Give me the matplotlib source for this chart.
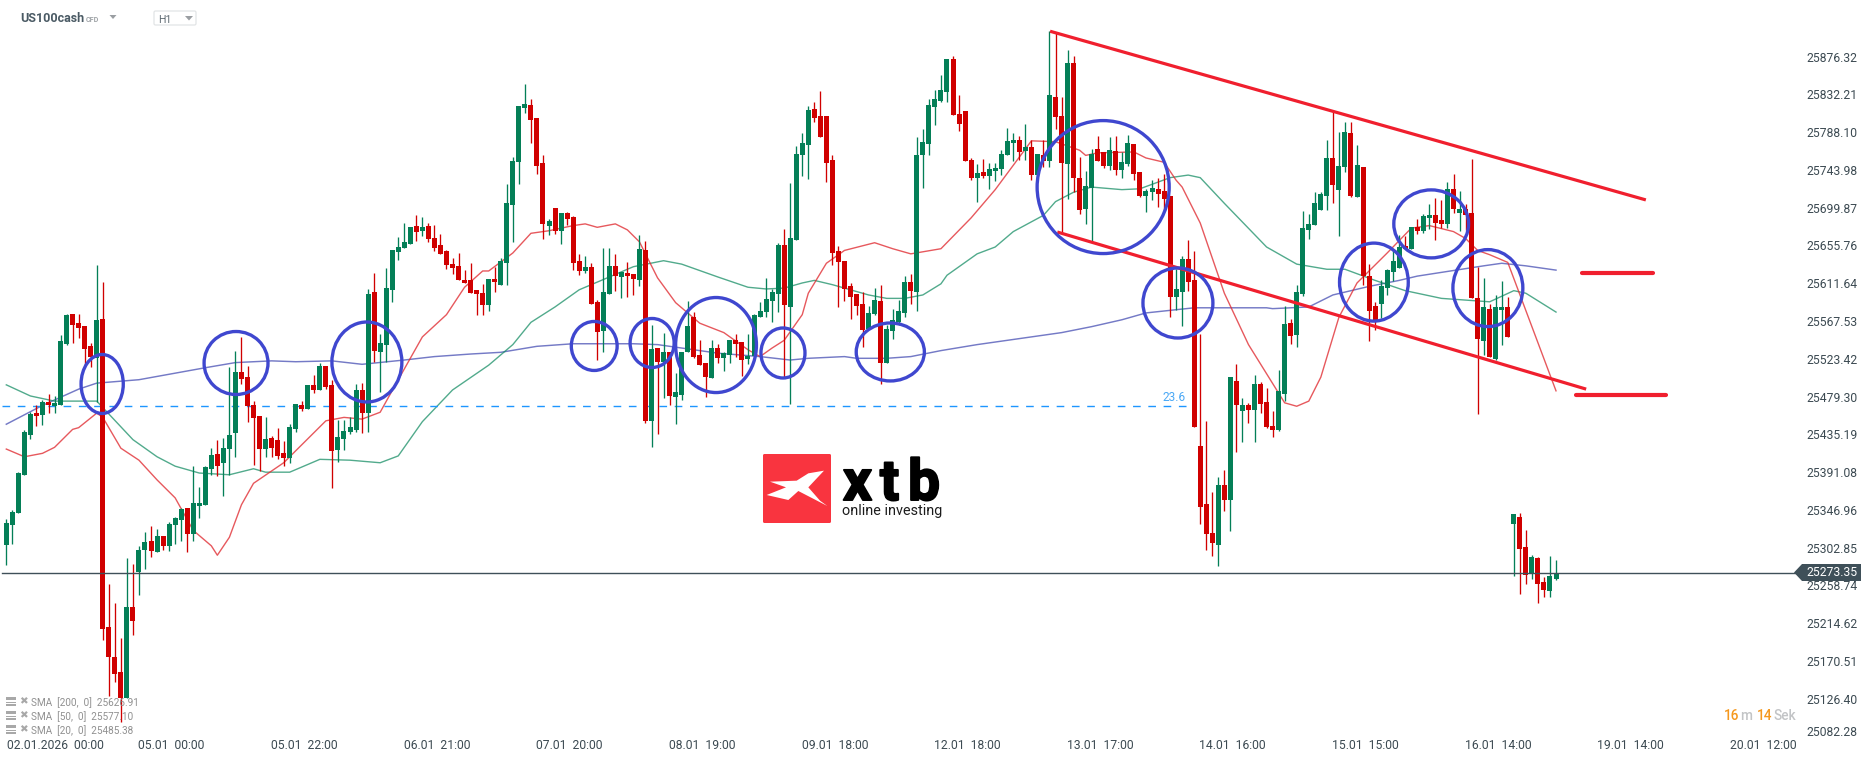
import matplotlib
matplotlib.use("Agg")
import matplotlib.pyplot as plt
import matplotlib.patheffects as pe
from matplotlib.patches import Ellipse, Polygon, FancyBboxPatch, Rectangle

plt.rcParams['font.family'] = ['Roboto', 'DejaVu Sans']

opens = [
25306,25329,25343,25388,25434,25460,25458,25473,25468,25469,
25541,25576,25565,25562,25538,25524,25570,25210,25175,25158,
25127,25234,25274,25300,25311,25298,25316,25305,25329,25335,
25349,25319,25351,25353,25395,25412,25402,25418,25437,25508,
25502,25469,25457,25418,25431,25429,25413,25408,25441,25469,
25465,25493,25487,25515,25493,25417,25430,25438,25440,25487,
25460,25601,25531,25540,25604,25648,25653,25658,25679,25673,
25679,25665,25656,25649,25634,25632,25615,25615,25604,25600,
25586,25617,25610,25635,25703,25753,25816,25820,25805,25752,
25679,25700,25673,25694,25689,25638,25626,25631,25590,25556,
25599,25632,25619,25624,25622,25615,25650,25451,25536,25520,
25531,25479,25481,25531,25572,25528,25518,25501,25536,25524,
25528,25545,25543,25523,25527,25572,25578,25591,25599,25656,
25584,25662,25761,25773,25815,25807,25807,25756,25649,25638,
25608,25599,25587,25558,25576,25591,25518,25556,25566,25577,
25613,25601,25761,25774,25818,25825,25835,25874,25809,25813,
25756,25735,25742,25737,25743,25745,25761,25775,25779,25766,
25771,25738,25761,25754,25829,25807,25751,25869,25735,25698,
25723,25768,25765,25749,25766,25744,25751,25774,25742,25714,
25718,25722,25719,25714,25596,25601,25640,25615,25422,25354,
25320,25306,25376,25358,25497,25462,25469,25464,25494,25473,
25445,25440,25482,25565,25551,25599,25674,25680,25697,25714,
25758,25721,25747,25787,25712,25747,25620,25585,25587,25606,
25625,25630,25655,25652,25677,25673,25688,25691,25686,25681,
25722,25694,25698,25694,25594,25544,25582,25523,25580,25584,
25330,25339,25304,25272,25291,25263,25252,25266]

highs = [
25336,25347,25391,25440,25461,25469,25475,25482,25480,25551,
25576,25576,25576,25562,25542,25633,25613,25260,25238,25197,
25291,25284,25305,25321,25328,25325,25316,25333,25339,25349,
25349,25398,25374,25398,25419,25429,25431,25514,25533,25549,
25515,25474,25457,25455,25433,25443,25427,25447,25471,25474,
25493,25504,25519,25515,25499,25452,25452,25455,25494,25495,
25605,25624,25552,25629,25651,25666,25682,25677,25691,25689,
25682,25680,25669,25650,25641,25647,25627,25635,25604,25611,
25617,25631,25641,25728,25759,25819,25844,25827,25805,25761,
25687,25700,25694,25695,25690,25646,25643,25635,25592,25653,
25653,25646,25625,25636,25622,25668,25661,25563,25536,25554,
25531,25507,25531,25591,25578,25545,25518,25545,25541,25531,
25545,25552,25543,25552,25576,25590,25618,25605,25659,25675,
25729,25772,25787,25819,25823,25836,25807,25761,25655,25638,
25612,25599,25601,25585,25606,25610,25563,25582,25592,25620,
25622,25783,25792,25827,25837,25855,25874,25877,25832,25813,
25758,25751,25757,25752,25752,25767,25793,25787,25784,25798,
25779,25763,25779,25906,25904,25829,25884,25877,25759,25743,
25768,25784,25765,25783,25784,25765,25785,25774,25742,25722,
25732,25735,25739,25714,25628,25644,25662,25649,25552,25451,
25368,25385,25394,25502,25517,25478,25472,25504,25496,25489,
25462,25510,25585,25570,25610,25696,25693,25718,25718,25779,
25812,25788,25800,25800,25773,25747,25634,25590,25615,25628,
25650,25668,25667,25677,25687,25693,25704,25711,25709,25730,
25739,25719,25704,25757,25631,25618,25587,25598,25614,25596,
25342,25343,25323,25294,25292,25269,25293,25288]

lows = [
25283,25307,25343,25388,25430,25445,25446,25460,25460,25469,
25540,25542,25548,25516,25514,25473,25195,25130,25146,25099,
25127,25201,25248,25278,25292,25298,25300,25299,25307,25311,
25298,25311,25337,25353,25388,25387,25363,25388,25409,25494,
25450,25399,25392,25409,25409,25406,25398,25402,25438,25462,
25465,25483,25487,25488,25373,25403,25417,25436,25438,25437,
25438,25520,25485,25520,25590,25639,25653,25658,25661,25667,
25660,25649,25646,25628,25622,25615,25612,25600,25575,25575,
25579,25601,25610,25610,25660,25728,25811,25775,25739,25663,
25668,25669,25658,25680,25627,25621,25624,25587,25522,25531,
25599,25603,25594,25596,25598,25608,25448,25420,25436,25478,
25469,25447,25475,25531,25524,25516,25479,25501,25518,25509,
25518,25526,25503,25517,25527,25572,25572,25566,25578,25502,
25471,25662,25737,25733,25800,25783,25730,25633,25584,25591,
25570,25575,25537,25558,25575,25494,25518,25547,25563,25572,
25587,25579,25723,25761,25796,25823,25823,25808,25789,25754,
25732,25707,25735,25722,25731,25738,25761,25754,25756,25756,
25732,25738,25747,25747,25792,25672,25710,25718,25693,25681,
25661,25754,25746,25744,25738,25735,25749,25732,25712,25695,
25709,25701,25696,25572,25580,25562,25603,25444,25331,25300,
25293,25281,25346,25322,25415,25426,25448,25426,25460,25443,
25432,25439,25474,25541,25537,25597,25663,25680,25697,25697,
25705,25667,25742,25712,25712,25610,25544,25557,25571,25598,
25614,25630,25652,25652,25669,25670,25675,25662,25676,25676,
25694,25673,25674,25594,25459,25528,25526,25522,25540,25549,
25270,25249,25260,25266,25238,25245,25245,25265]

closes = [
25332,25344,25390,25438,25459,25457,25473,25469,25472,25544,
25575,25563,25559,25535,25526,25569,25208,25175,25155,25127,
25234,25217,25300,25309,25299,25316,25305,25330,25337,25348,
25319,25355,25355,25397,25411,25398,25419,25434,25508,25500,
25468,25454,25418,25430,25419,25410,25408,25444,25471,25465,
25493,25487,25515,25490,25416,25432,25439,25444,25487,25460,
25599,25533,25542,25606,25651,25654,25660,25677,25672,25677,
25663,25653,25646,25633,25629,25615,25612,25600,25599,25586,
25617,25613,25638,25705,25754,25819,25821,25802,25749,25681,
25684,25673,25694,25687,25635,25626,25631,25587,25555,25601,
25632,25620,25625,25620,25617,25652,25451,25535,25520,25531,
25480,25485,25531,25562,25526,25516,25502,25536,25524,25530,
25545,25541,25522,25527,25575,25579,25593,25601,25656,25586,
25665,25763,25775,25814,25805,25783,25752,25647,25636,25605,
25596,25585,25557,25577,25592,25518,25558,25569,25579,25613,
25603,25761,25777,25820,25827,25837,25874,25808,25798,25754,
25735,25740,25737,25745,25746,25763,25778,25779,25765,25771,
25738,25763,25754,25832,25806,25752,25869,25735,25697,25725,
25763,25754,25749,25767,25744,25753,25775,25739,25714,25719,
25723,25716,25710,25596,25605,25640,25613,25444,25350,25319,
25308,25376,25358,25502,25469,25469,25464,25494,25471,25444,
25440,25486,25564,25550,25601,25676,25681,25705,25716,25758,
25726,25749,25788,25714,25750,25620,25579,25568,25608,25627,
25638,25654,25652,25677,25673,25690,25691,25682,25681,25722,
25698,25698,25691,25594,25547,25584,25526,25584,25584,25549,
25342,25301,25271,25292,25260,25253,25270,25273.35]

sma200_idx = [0,6,12,15,22,33,38,44,48,54,59,66,71,77,82,88,94,104,108,113,118,125,130,133,139,141,146,150,155,161,169,175,180,185,189,197,209,210,216,220,226,231,234,245,248,252,257]
sma200_val = [25447,25469,25488,25495,25499,25513,25519,25521,25520,25521,25517,25522,25526,25529,25531,25538,25541,25541,25540,25535,25530,25526,25522,25524,25526,25524,25524,25526,25533,25540,25548,25554,25561,25569,25577,25583,25583,25582,25584,25598,25608,25615,25620,25632,25635,25632,25627]

sma50_idx = [0,4,8,15,21,25,28,32,37,41,43,47,52,57,62,65,69,74,80,84,87,91,95,100,104,109,112,118,123,126,129,132,134,137,143,146,149,152,155,156,161,164,167,172,174,177,180,185,188,193,196,198,202,209,214,219,222,227,232,238,246,250,252,257]
sma50_val = [25493,25480,25474,25474,25429,25409,25398,25390,25388,25395,25391,25391,25406,25405,25402,25410,25450,25487,25516,25540,25566,25584,25604,25619,25631,25638,25634,25619,25607,25605,25606,25612,25615,25610,25598,25594,25594,25598,25611,25621,25646,25654,25672,25691,25707,25718,25724,25721,25722,25735,25738,25735,25705,25654,25634,25628,25628,25615,25603,25594,25590,25603,25600,25578]

sma20_idx = [0,3,6,8,11,12,15,16,19,22,25,28,31,34,35,37,39,41,46,49,53,56,59,62,65,69,73,76,79,80,84,87,90,94,96,98,101,103,105,108,111,115,119,123,125,127,129,132,133,136,139,144,147,150,155,160,164,170,174,178,179,181,187,189,192,194,195,198,202,206,212,214,216,218,221,224,229,233,236,240,242,244,246,249,257]
sma20_val = [25418,25409,25413,25420,25441,25443,25460,25455,25419,25405,25382,25361,25323,25305,25294,25315,25353,25378,25402,25423,25451,25455,25453,25461,25499,25549,25575,25607,25626,25626,25647,25670,25673,25679,25681,25677,25681,25674,25660,25618,25589,25565,25554,25534,25526,25536,25545,25575,25600,25635,25650,25659,25652,25646,25652,25688,25721,25778,25777,25767,25761,25764,25765,25758,25753,25732,25724,25682,25600,25540,25472,25468,25474,25502,25572,25612,25647,25676,25679,25672,25664,25650,25645,25636,25486]

y_ticks = [25876.32,25832.21,25788.10,25743.98,25699.87,25655.76,25611.64,25567.53,25523.42,25479.30,25435.19,25391.08,25346.96,25302.85,25258.74,25214.62,25170.51,25126.40,25082.28]
x_tick_pos = [8.1,27.4,49.4,71.4,93.4,115.4,137.4,159.4,181.4,203.4,225.4,247.4,269.4,291.4]
x_tick_labels = ["02.01.2026  00:00","05.01  00:00","05.01  22:00","06.01  21:00","07.01  20:00","08.01  19:00","09.01  18:00","12.01  18:00","13.01  17:00","14.01  16:00","15.01  15:00","16.01  14:00","19.01  14:00","20.01  12:00"]

fib_level = 25468
last_price = 25273.35

# hand-drawn annotations: (candle index, price, width in candles, height in price)
circles = [(15.9,25494,7.0,68.9),(38.1,25518.5,10.6,73.6),(59.8,25519.7,11.6,93.4),(97.5,25538.4,7.6,57.2),
           (107.1,25541.9,7.3,57.2),(117.7,25539.5,13.4,111),(128.8,25530.2,7.3,58.4),(146.6,25531.4,11.3,67.7),
           (181.9,25724,21.9,155.3),(194.3,25588.6,11.6,81.8),(226.8,25613,11.4,91.1),(236.3,25681,12.4,79.4),(245.7,25606,11.6,89.9)]
channel_upper = ([173.1,271.9],[25906,25709])
channel_lower = ([174.3,262.0],[25671.5,25488])
level_upper = ([261.3,273.1],[25623.6,25623.6])
level_lower = ([260.3,275.2],[25481,25481])

W, H = 1866, 761
GREEN, RED = '#047f57', '#d00000'
TXT = '#3c4a52'
fig = plt.figure(figsize=(W/100, H/100), dpi=100, facecolor='white')
AR, AB = 1800, 737
ax = fig.add_axes([0, 1-AB/H, AR/W, AB/H])
ax.set_xlim(-6.3/6.03, (AR-6.3)/6.03)
ax.set_ylim(25942.5-1.168*AB, 25942.5)
for s in ax.spines.values():
    s.set_visible(False)

ax.plot(sma200_idx, sma200_val, color='#3f47b0', lw=1.05, alpha=0.72, zorder=2)
ax.plot(sma50_idx, sma50_val, color='#0f8a60', lw=1.0, alpha=0.72, zorder=2)
ax.plot(sma20_idx, sma20_val, color='#e02a30', lw=1.0, alpha=0.78, zorder=2)

ax.plot([-0.7, 196.3], [fib_level]*2, color='#1e96ff', lw=1.0, dashes=(5.5, 5.5), zorder=2)
ax.text(195.6, 25478.8, '23.6', color='#4aa8f5', fontsize=8.6, ha='right', va='center', zorder=3)

idx = list(range(len(opens)))
cols = [GREEN if c >= o else RED for o, c in zip(opens, closes)]
ax.vlines(idx, lows, highs, colors=cols, lw=0.95, zorder=3)
bottoms = [min(o, c) for o, c in zip(opens, closes)]
heights = [max(abs(c-o), 1.2) for o, c in zip(opens, closes)]
ax.bar(idx, heights, bottom=bottoms, width=5/6.03, color=cols, linewidth=0, zorder=4)

ax.axhline(last_price, xmin=2/AR, xmax=1795/AR, color='#3f5059', lw=1.0, zorder=5)

for px_, py_, w_, h_ in circles:
    ax.add_patch(Ellipse((px_, py_), w_, h_, fill=False, edgecolor='#3f47cf', lw=2.4, zorder=7))
ax.plot(*channel_upper, color='#f01f2e', lw=2.3, solid_capstyle='butt', zorder=6)
ax.plot(*channel_lower, color='#f01f2e', lw=2.3, solid_capstyle='butt', zorder=6)
ax.plot(*level_upper, color='#f01f2e', lw=3.0, solid_capstyle='round', zorder=6)
ax.plot(*level_lower, color='#f01f2e', lw=3.0, solid_capstyle='round', zorder=6)

ax.yaxis.tick_right()
ax.set_yticks(y_ticks)
ax.set_yticklabels([f'{v:.2f}' for v in y_ticks])
ax.tick_params(axis='y', length=0, pad=4.3, labelsize=8.7, labelcolor=TXT)
ax.get_yticklabels()[-1].set_va('baseline')
ax.set_xticks(x_tick_pos)
ax.set_xticklabels(x_tick_labels)
ax.tick_params(axis='x', length=0, pad=1.6, labelsize=8.7, labelcolor=TXT)

# overlay in pixel coordinates for interface furniture
ov = fig.add_axes([0, 0, 1, 1], zorder=10)
ov.set_xlim(0, W); ov.set_ylim(H, 0); ov.axis('off'); ov.patch.set_alpha(0)

ov.text(20, 18.5, 'US100cash', fontsize=9.0, fontweight='bold', color='#4a5a64', va='center')
ov.text(86, 19.5, 'CFD', fontsize=5.2, fontweight='bold', color='#a0a4a8', va='center')
ov.add_patch(Polygon([(109.5,15),(116.5,15),(113,19)], color='#9a9ea2', lw=0))
ov.add_patch(FancyBboxPatch((154,11),42,14, boxstyle='round,pad=0,rounding_size=1.5', fc='white', ec='#e2e4e6', lw=0.9))
ov.text(158, 20, 'H1', fontsize=7.6, color='#5f6a72', va='center')
ov.add_patch(Polygon([(185,16),(193,16),(189,20.5)], color='#9a9ea2', lw=0))

legend_rows = [(701.7,'SMA  [200,  0]  25626.91'),(715.7,'SMA  [50,  0]  25577.10'),(729.7,'SMA  [20,  0]  25485.38')]
for yy, t in legend_rows:
    for dy, hh in ((-4.5,3.0),(-0.2,1.0),(2.3,1.8)):
        ov.add_patch(Rectangle((6,yy+dy),10,hh, color='#a8a8a8', lw=0))
    ov.text(23.5, yy-0.5, '\u2716', fontsize=7.5, color='#a8a8a8', ha='center', va='center', family=['DejaVu Sans'])
    ov.text(31, yy+0.5, t, fontsize=7.2, color='#8a8a8a', va='center', alpha=0.95)

# current price tag
ov.add_patch(Polygon([(1794,572.5),(1802,564),(1861,564),(1861,581),(1802,581)], color='#3f5059', lw=0))
ov.text(1806, 573, f'{last_price:.2f}', fontsize=8.7, color='white', va='center')

# countdown
for xx, t, c in ((1724,'16','#f5981e'),(1740,'m','#c2c4c6'),(1757,'14','#f5981e'),(1774,'Sek','#c2c4c6')):
    ov.text(xx, 716, t, fontsize=9.8, color=c, va='center', fontweight='medium')

# logo
ov.add_patch(FancyBboxPatch((763,454),68,69, boxstyle='round,pad=0,rounding_size=1.5', fc='#f9343f', ec='none'))
logo = [(252,122),(205,130),(170,152),(90,155),(138,172),(80,195),(145,210),(175,183),(262,228),(240,212),(205,172)]
ov.add_patch(Polygon([(740+a/3, 430+b/3) for a, b in logo], color='white', lw=0))
for xx, t in ((843,'x'),(880,'t'),(908,'b')):
    ov.text(xx, 500, t, fontsize=41, fontweight='bold', color='black', ha='left', va='baseline', family=['Roboto'],
            path_effects=[pe.withStroke(linewidth=1.4, foreground='black')])
ov.text(892.5, 511.5, 'online investing', fontsize=10.4, color='#1c1c1c', ha='center', va='center')

fig.savefig('out.png', dpi=100, facecolor='white')
